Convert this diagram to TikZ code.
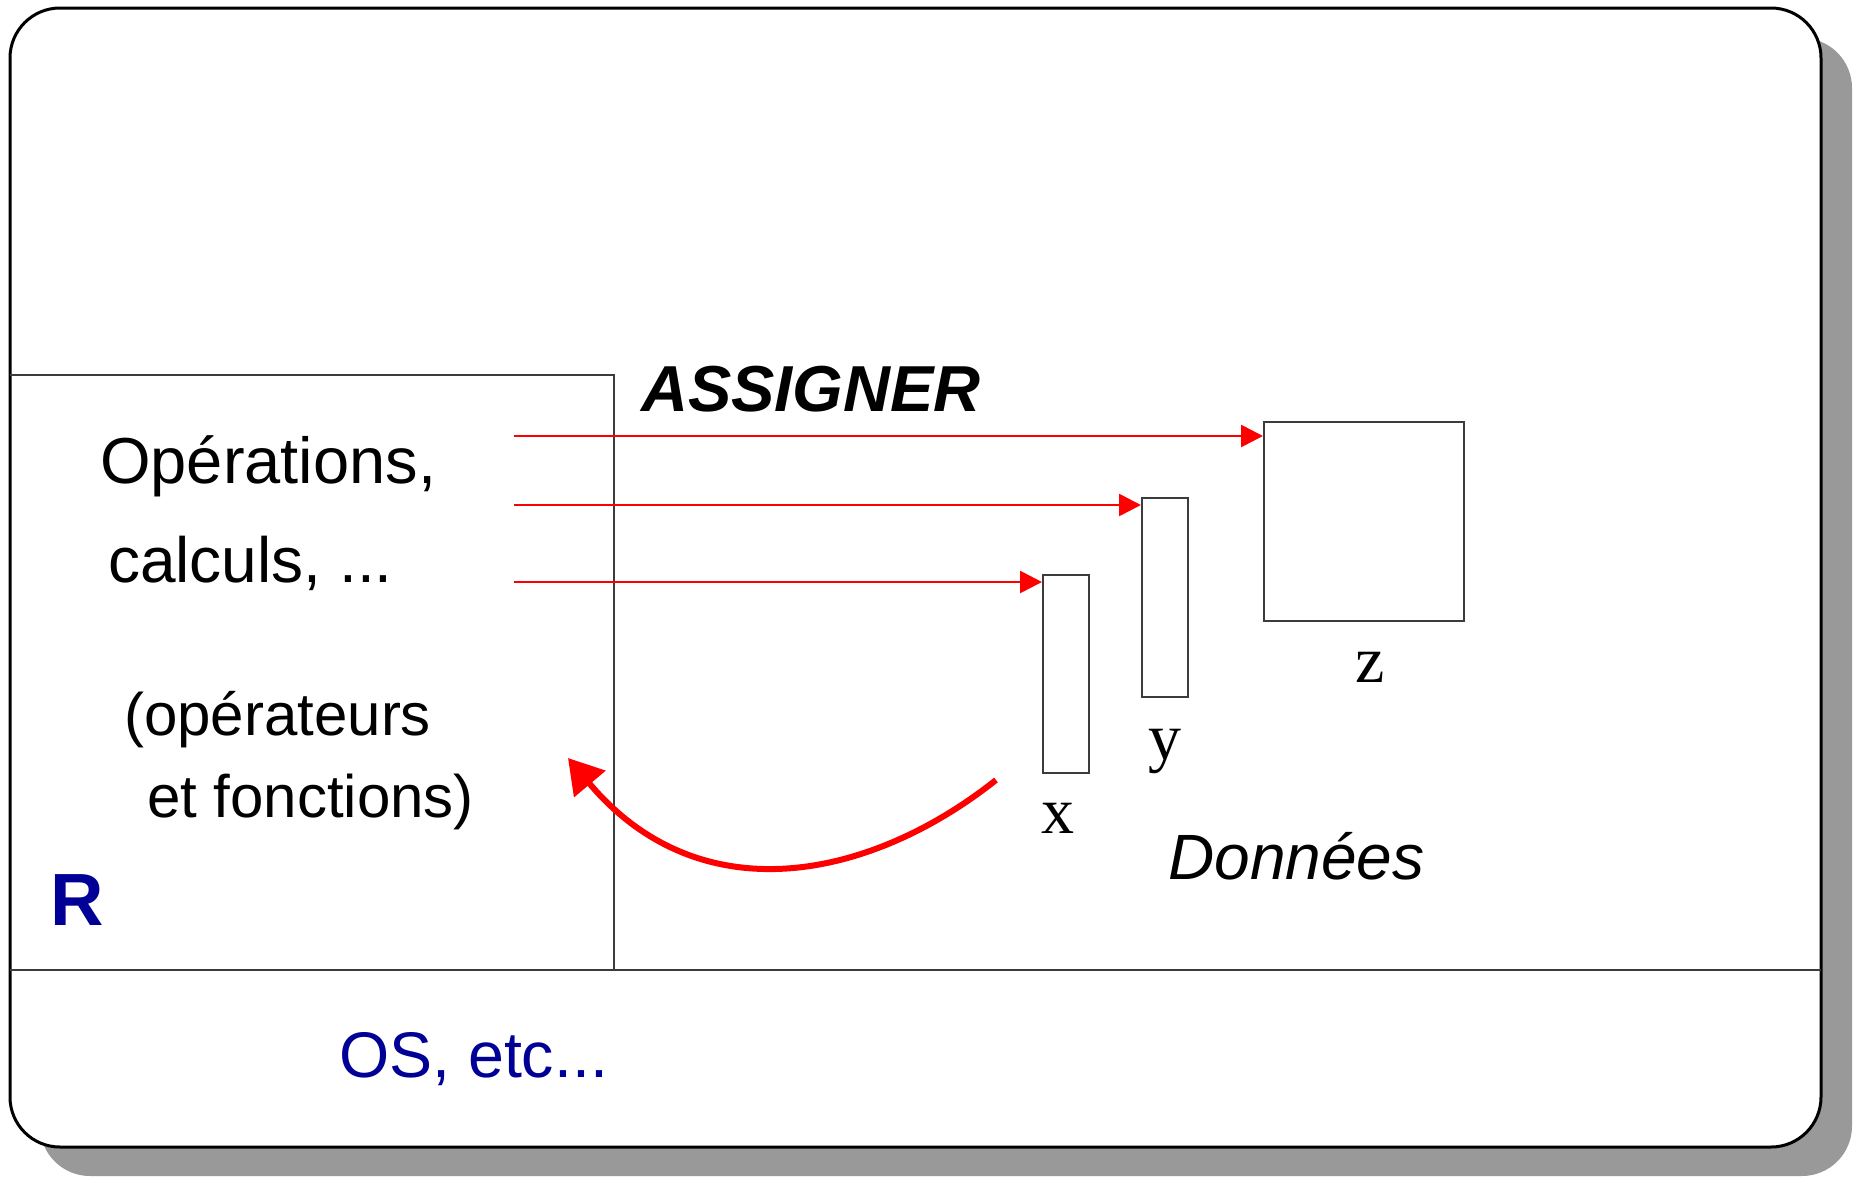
\documentclass[tikz,border=0pt]{standalone}
\usepackage{fontspec}
\setmainfont{Liberation Sans}
\newfontfamily\tms{Liberation Serif}
\usetikzlibrary{arrows.meta}
\definecolor{rblue}{RGB}{0,0,150}
\definecolor{shadowgray}{RGB}{153,153,153}
\definecolor{linegray}{RGB}{60,60,60}
\tikzset{
  frame/.style={draw=black,line width=3pt,fill=white,rounded corners=50pt},
  shadowbox/.style={fill=shadowgray,rounded corners=50pt},
  sep/.style={draw=linegray,line width=1.6pt},
  varbox/.style={draw=linegray,line width=1.6pt,fill=white},
  assign/.style={draw=red,line width=2.7pt,-{Triangle[length=22pt,width=22pt]}},
  back/.style={draw=red,line width=6pt,-{Triangle[length=34pt,width=40pt]}},
  txt/.style={inner sep=0pt,anchor=base west},
  varlab/.style={inner sep=0pt,anchor=base,font=\tms\fontsize{66}{70}\selectfont}
}
\begin{document}
\begin{tikzpicture}[x=1pt,y=-1pt]
\useasboundingbox (0,0) rectangle (1853,1176);
% shadow and frame
\fill[shadowbox] (40,38) rectangle (1852,1176);
\path[frame] (10,8) rectangle (1821,1147);
% separators
\draw[sep] (10,375) -- (614,375) -- (614,970);
\draw[sep] (10,970) -- (1821,970);
% variable boxes
\node[varbox,minimum width=200pt,minimum height=199pt,inner sep=0pt,anchor=north west] (z) at (1263,421) {};
\node[varbox,minimum width=46pt,minimum height=199pt,inner sep=0pt,anchor=north west] (y) at (1141,497) {};
\node[varbox,minimum width=46pt,minimum height=198pt,inner sep=0pt,anchor=north west] (x) at (1042,574) {};
\node[varlab] (zl) at (1370,682) {z};
\node[varlab] (yl) at (1165,759) {y};
\node[varlab] (xl) at (1058,833) {x};
% texts
\node[txt,font=\fontsize{65}{70}\selectfont] (op) at (100,483) {Opérations,};
\node[txt,font=\fontsize{64}{70}\selectfont] (calc) at (108,582) {calculs, ...};
\node[txt,font=\fontsize{60}{70}\selectfont] (opr) at (124,735) {(opérateurs};
\node[txt,font=\fontsize{60}{70}\selectfont] (fct) at (147,817) {et fonctions)};
\node[txt,font=\bfseries\fontsize{74}{80}\selectfont,text=rblue] (R) at (50,925) {R};
\node[txt,font=\fontsize{64.5}{70}\selectfont,text=rblue] (os) at (339,1077) {OS, etc...};
\node[txt,font=\bfseries\itshape\fontsize{65}{70}\selectfont] (asg) at (641,411) {ASSIGNER};
\node[txt,font=\itshape\fontsize{64}{70}\selectfont] (don) at (1168,879) {Données};
% assignment arrows
\coordinate (s1) at (514,436);
\coordinate (s2) at (514,505);
\coordinate (s3) at (514,582);
\draw[assign] (s1) -- (z.west |- s1);
\draw[assign] (s2) -- (y.west |- s2);
\draw[assign] (s3) -- (x.west |- s3);
% return arrow
\coordinate (rs) at (996,780);
\coordinate (rt) at (568,758);
\draw[back] (rs) .. controls (870,880) and (700,915) .. (rt);
\end{tikzpicture}
\end{document}
